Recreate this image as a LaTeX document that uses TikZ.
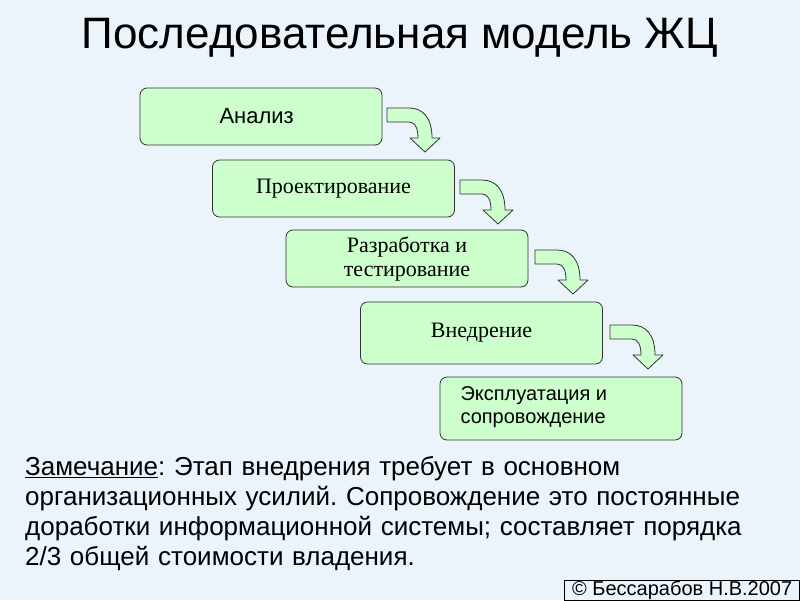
\documentclass[tikz,border=0pt]{standalone}
\usepackage{fontspec}
\setmainfont{Liberation Sans}
\newfontfamily\serifrm{Liberation Serif}
\frenchspacing
\definecolor{bg}{HTML}{EAF4FA}
\definecolor{boxg}{HTML}{CCFFCC}
\newcommand\myarrow[2]{\begin{scope}[shift={(#1,#2)}]
\filldraw[fill=boxg,draw=black!80,line width=0.8pt,line join=round] (0,0) -- (22,0) .. controls (36,0) and (45,10) .. (45,30) -- (53,30) -- (38,44) -- (23,30) -- (31,30) .. controls (31,20) and (28,14) .. (22,14) -- (0,14) -- cycle;
\end{scope}}
\begin{document}
\begin{tikzpicture}[x=1pt,y=-1pt,
  stage/.style={draw=black!80,fill=boxg,rounded corners=7pt,line width=0.8pt,minimum width=242pt,minimum height=57pt,inner sep=0pt},
  stxt/.style={font=\serifrm\fontsize{22}{24}\selectfont}]
\fill[bg] (0,0) rectangle (800,600);
\useasboundingbox (0,0) rectangle (800,600);
\node[font=\fontsize{44}{50}\selectfont] (title) at (400,38) {Последовательная модель ЖЦ};
\node[stage] (s1) at (261,116.5) {};
\node[anchor=west,font=\fontsize{22}{24}\selectfont] (t1) at (216,116) {Анализ};
\node[stage,stxt] (s2) at (333.5,188.5) {Проектирование};
\node[stage,stxt,align=center] (s3) at (407,258.5) {Разработка и\\тестирование};
\node[stage,stxt,minimum height=62pt] (s4) at (481.5,333) {Внедрение};
\node[stage,minimum height=63pt] (s5) at (561,408.5) {};
\node[anchor=west,align=left,font=\fontsize{20}{23}\selectfont] (t5) at (457,407) {Эксплуатация и\\сопровождение};
\myarrow{387}{108}
\myarrow{460}{180}
\myarrow{535}{250}
\myarrow{610}{325}
\node[anchor=north west,align=left,text width=770pt,inner sep=0pt,font=\fontsize{26}{30}\selectfont] (note) at (25,456) {\underline{Замечание}: Этап внедрения требует в основном\\организационных усилий. Сопровождение это постоянные\\доработки информационной системы; составляет порядка\\2/3 общей стоимости владения.};
\node[draw=black,line width=0.6pt,anchor=south east,inner sep=1pt,minimum width=235pt,minimum height=20pt,font=\fontsize{20}{20}\selectfont] (copy) at (800,601) {© Бессарабов Н.В.2007};
\end{tikzpicture}
\end{document}
